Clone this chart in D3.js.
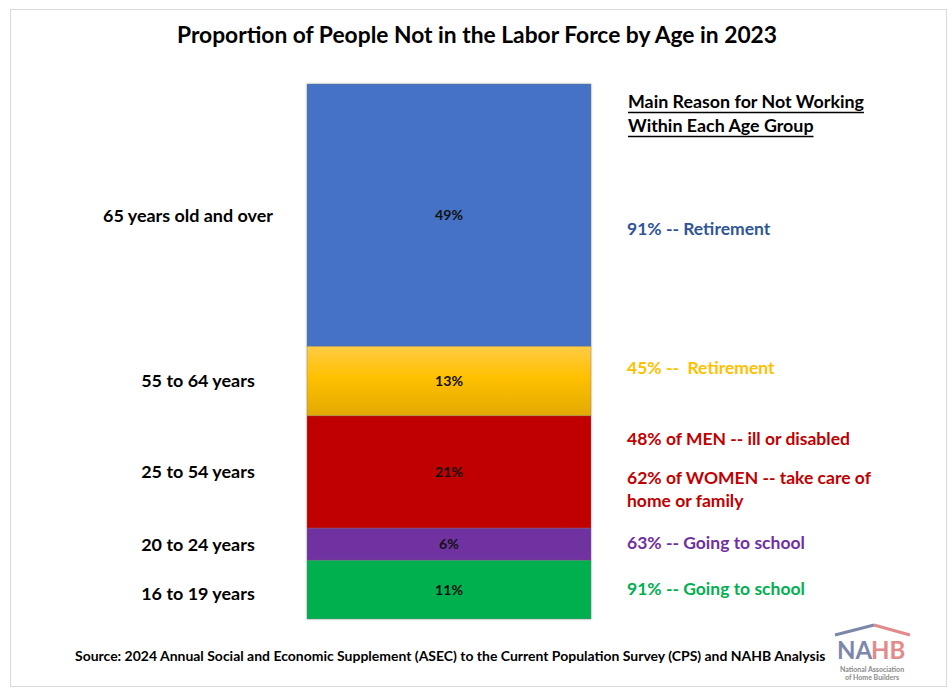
<!DOCTYPE html>
<html>
<head>
<meta charset="utf-8">
<script src="https://cdn.jsdelivr.net/npm/d3@7"></script>
<style>
  html, body { margin: 0; padding: 0; background: #fff; }
  svg text { font-family: Lato, "Open Sans", sans-serif; font-weight: 700; white-space: pre; }
</style>
</head>
<body>
<svg id="chart" width="952" height="696"></svg>
<script>
// ---- data ----
const ageGroups = ["16 to 19 years", "20 to 24 years", "25 to 54 years", "55 to 64 years", "65 years old and over"];
const shares = [11, 6, 21, 13, 49];
const segmentColors = ["#00B050", "#7030A0", "#C00000", "#FFC000", "#4472C4"];
const reasonLines = [
  ["91% -- Going to school"],
  ["63% -- Going to school"],
  ["48% of MEN -- ill or disabled", "62% of WOMEN -- take care of", "home or family"],
  ["45% --  Retirement"],
  ["91% -- Retirement"]
];
const reasonColors = ["#00B050", "#7030A0", "#C00000", "#FFC000", "#2F5597"];
const titleText = "Proportion of People Not in the Labor Force by Age in 2023";
const headerLines = ["Main Reason for Not Working", "Within Each Age Group"];
const sourceText = "Source: 2024 Annual Social and Economic Supplement (ASEC) to the Current Population Survey (CPS) and NAHB Analysis";

// ---- layout ----
const svg = d3.select("#chart");
const reasonOffsets = [5, 4.5, -27, -6.5, 20]; // baseline shift of first reason line vs segment centre
const reasonLineDy = [[0], [0], [0, 39, 62], [0], [0]];
const labelCentreX = [198, 198, 198, 198, 188];

function fit(sel, target) {
  const n = sel.node();
  let fs = parseFloat(sel.attr("font-size"));
  for (let i = 0; i < 3; i++) {
    const w = n.getComputedTextLength();
    fs = fs * target / w;
    sel.attr("font-size", fs);
  }
  return fs;
}
function sizeFor(text, base, target) {
  const t = svg.append("text").attr("font-size", base).text(text);
  const fs = fit(t, target);
  t.remove();
  return fs;
}

// frame
svg.append("rect").attr("x", 10.5).attr("y", 9.5).attr("width", 936).attr("height", 677)
  .attr("fill", "#fff").attr("stroke", "#d9d9d9").attr("stroke-width", 1);

// title
const title = svg.append("text").attr("x", 477).attr("y", 43).attr("text-anchor", "middle")
  .attr("font-size", 20).attr("fill", "#000").text(titleText);
fit(title, 600);

// stacked data
const rows = ageGroups.map((g, i) => ({ group: g, value: shares[i], color: segmentColors[i], reasons: reasonLines[i], rcolor: reasonColors[i], i }));
let acc = 0;
rows.forEach(r => { r.y0 = acc; acc += r.value; r.y1 = acc; });

const y = d3.scaleLinear().domain([0, d3.sum(shares)]).range([619, 84]);
const x = d3.scaleBand().domain(["2023"]).range([307, 591]).padding(0);

// gradient for yellow segment
const defs = svg.append("defs");
const grad = defs.append("linearGradient").attr("id", "gold").attr("x1", 0).attr("y1", 0).attr("x2", 0).attr("y2", 1);
grad.append("stop").attr("offset", "0%").attr("stop-color", "#FFCB45");
grad.append("stop").attr("offset", "45%").attr("stop-color", "#FFC000");
grad.append("stop").attr("offset", "100%").attr("stop-color", "#E2AA00");
const shadow = defs.append("filter").attr("id", "sh").attr("x", "-5%").attr("y", "-5%").attr("width", "110%").attr("height", "110%");
shadow.append("feDropShadow").attr("dx", 0).attr("dy", 0).attr("stdDeviation", 1.2).attr("flood-color", "#000").attr("flood-opacity", 0.25);

const bars = svg.append("g").attr("filter", "url(#sh)");
bars.selectAll("rect").data(rows).join("rect")
  .attr("x", x("2023")).attr("width", x.bandwidth())
  .attr("y", d => y(d.y1)).attr("height", d => y(d.y0) - y(d.y1))
  .attr("fill", d => d.color === "#FFC000" ? "url(#gold)" : d.color)
  .attr("stroke", "rgba(120,120,120,0.45)").attr("stroke-width", 0.8);

// value labels
const valSize = sizeFor("13%", 13, 28);
svg.append("g").selectAll("text").data(rows).join("text")
  .attr("x", x("2023") + x.bandwidth() / 2)
  .attr("y", d => (y(d.y0) + y(d.y1)) / 2).attr("dy", "0.36em")
  .attr("text-anchor", "middle").attr("font-size", valSize).attr("fill", "#111")
  .text(d => d.value + "%");

// category labels
const catSize = sizeFor("65 years old and over", 15, 170);
svg.append("g").selectAll("text").data(rows).join("text")
  .attr("x", d => labelCentreX[d.i])
  .attr("y", d => (y(d.y0) + y(d.y1)) / 2 + (d.i === 0 ? 3.5 : 0)).attr("dy", "0.36em")
  .attr("text-anchor", "middle").attr("font-size", catSize).attr("fill", "#000")
  .text(d => d.group);

// header
const headSize = sizeFor(headerLines[0], 16, 236);
headerLines.forEach((t, k) => {
  const tx = svg.append("text").attr("x", 628).attr("y", 108 + k * 24)
    .attr("font-size", headSize).attr("fill", "#000").text(t);
  const w = tx.node().getComputedTextLength();
  svg.append("line").attr("x1", 628).attr("x2", 628 + w).attr("y1", 112.5 + k * 24).attr("y2", 112.5 + k * 24)
    .attr("stroke", "#000").attr("stroke-width", 1.3);
});

// reasons
const reasonSize = sizeFor("48% of MEN -- ill or disabled", 16, 223);
const rg = svg.append("g");
rows.forEach(r => {
  const cy = (y(r.y0) + y(r.y1)) / 2 + reasonOffsets[r.i];
  r.reasons.forEach((t, k) => {
    rg.append("text").attr("x", 627).attr("y", cy + reasonLineDy[r.i][k])
      .attr("font-size", reasonSize).attr("fill", r.rcolor).text(t);
  });
});

// source
const src = svg.append("text").attr("x", 75).attr("y", 661).attr("font-size", 12).attr("fill", "#000").text(sourceText);
fit(src, 751);

// NAHB logo
const logo = svg.append("g");
logo.append("path").attr("d", "M835,635 L874,625").attr("stroke", "#7D87AA").attr("stroke-width", 3).attr("fill", "none");
logo.append("path").attr("d", "M874,625 L910,635").attr("stroke", "#E38A8A").attr("stroke-width", 3).attr("fill", "none");
logo.append("text").attr("x", 837).attr("y", 659).attr("font-size", 24).attr("font-weight", 900)
  .attr("fill", "#7D87AA").text("NA");
logo.append("text").attr("x", 871).attr("y", 659).attr("font-size", 24).attr("font-weight", 900)
  .attr("fill", "#E38A8A").text("HB");
logo.append("text").attr("x", 872).attr("y", 672).attr("text-anchor", "middle").attr("font-size", 7)
  .attr("font-weight", 400).attr("fill", "#8a8a8a").text("National Association");
logo.append("text").attr("x", 872).attr("y", 680).attr("text-anchor", "middle").attr("font-size", 7)
  .attr("font-weight", 400).attr("fill", "#8a8a8a").text("of Home Builders");
</script>
</body>
</html>
